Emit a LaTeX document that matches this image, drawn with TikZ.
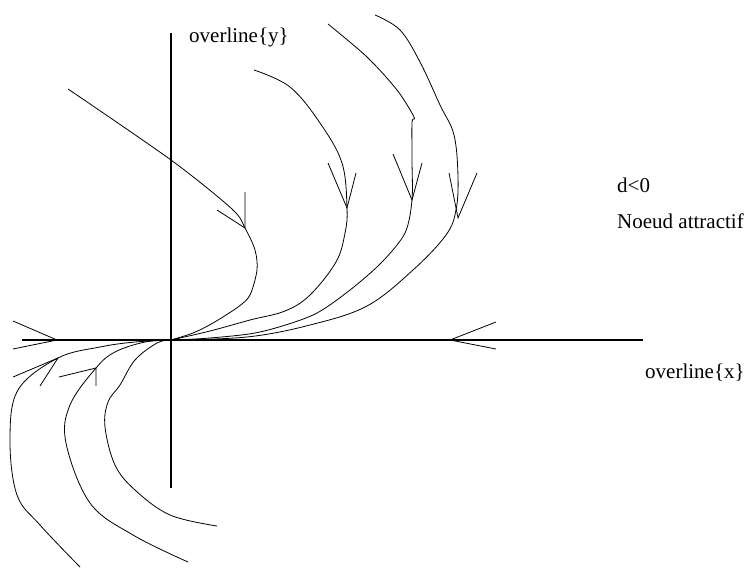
\documentclass[tikz,border=0pt]{standalone}
\usepackage{fontspec}
\setmainfont{Liberation Serif}
\begin{document}
\begin{tikzpicture}[x=1pt,y=-1pt,
  traj/.style={line width=0.8pt,line join=round},
  barb/.style={line width=0.8pt,line join=miter},
  axis/.style={line width=1.6pt},
  lbl/.style={font=\fontsize{21}{24}\selectfont,inner sep=0pt,anchor=base west}]
\useasboundingbox (0,0) rectangle (751,567);
% origin and axis ends
\coordinate (O) at (171,340);
\coordinate (xl) at (22,340);
\coordinate (xr) at (643,340);
\coordinate (yt) at (171,33);
\coordinate (yb) at (171,488);
\draw[axis] (xl) -- (xr);
\draw[axis] (yt) -- (yb);
% labels
\node[lbl] (ly) at (189,43) {overline\{y\}};
\node[lbl] (lx) at (645,378) {overline\{x\}};
\node[lbl] (ld) at (617,192) {d<0};
\node[lbl] (ln) at (617,228) {Noeud attractif};
% axis arrowheads
\coordinate (tL) at (57,340);
\coordinate (tR) at (450,340);
\draw[barb] (13,321) -- (tL) -- (13,349);
\draw[barb] (496,322) -- (tR) -- (496,349);
% upper trajectories
\coordinate (tA) at (245,228);
\coordinate (tB) at (347,208);
\coordinate (tC) at (412,200);
\coordinate (tD) at (458,218);
\draw[traj] plot[smooth,tension=0.5] coordinates {(68,89) (171,160) (232,209) (tA) (255,250) (257,270) (250,295) (238,307) (213,323) (193,333) (O)};
\draw[barb] (217,210) -- (tA) -- (245,192);
\draw[traj] plot[smooth,tension=0.6] coordinates {(254,70) (290,87) (320,123) (342,163) (tB) (345,233) (336,262) (310,295) (285,311) (250,320) (210,331) (O)};
\draw[barb] (328,163) -- (tB) -- (356,173);
\draw[traj] plot[smooth,tension=0.5] coordinates {(328,24) (367,57) (397,90) (414,117) (412,122) (412,160) (tC) (405,233) (382,262) (350,290) (313,315) (260,332) (210,338) (O)};
\draw[barb] (393,154) -- (tC) -- (422,163);
\draw[traj] plot[smooth,tension=0.6] coordinates {(375,15) (400,30) (420,62) (440,105) (454,135) (458,177) (456,210) (446,235) (413,270) (367,306) (310,325) (247,337) (O)};
\draw[barb] (449,173) -- (tD) -- (477,173);
% lower trajectories
\coordinate (tF) at (58,358);
\coordinate (tG) at (96,368);
\draw[traj] plot[smooth,tension=0.6] coordinates {(80,567) (40,525) (17,495) (10,440) (18,390) (tF) (100,347) (135,342) (O)};
\draw[barb] (13,377) -- (tF) -- (40,386);
\draw[traj] plot[smooth,tension=0.6] coordinates {(188,562) (133,535) (90,503) (66,443) (70,405) (tG) (115,352) (145,342) (O)};
\draw[barb] (59,377) -- (tG) -- (96,386);
\draw[traj] plot[smooth,tension=0.6] coordinates {(217,526) (170,515) (135,490) (115,465) (105,427) (108,402) (120,385) (135,360) (157,343) (O)};
\end{tikzpicture}
\end{document}
